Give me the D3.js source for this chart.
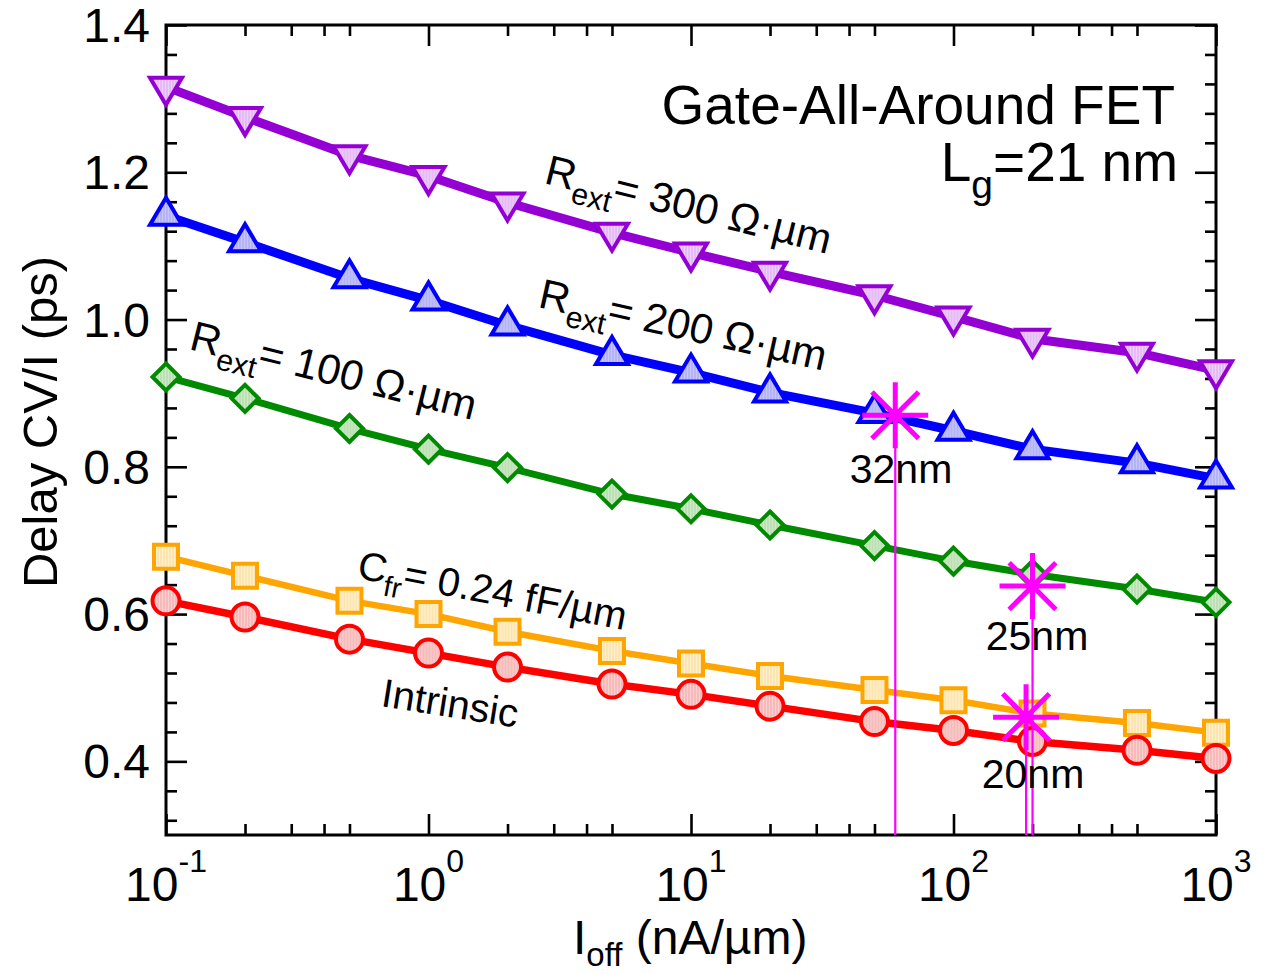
<!DOCTYPE html>
<html>
<head>
<meta charset="utf-8">
<script src="https://cdn.jsdelivr.net/npm/d3@7"></script>
<style>
  html, body { margin: 0; padding: 0; background: #fff; }
  svg { display: block; font-family: "Liberation Sans", Arial, Helvetica, sans-serif; }
</style>
</head>
<body>
<svg id="chart" width="1272" height="974"></svg>
<script>
// Off-state current (nA/um) at which each delay was computed
const ioff = [0.1, 0.2, 0.5, 1, 2, 5, 10, 20, 50, 100, 200, 500, 1000];

// Delay CV/I (ps) for each configuration
const rext300 = [1.316, 1.275, 1.223, 1.195, 1.159, 1.118, 1.091, 1.065, 1.033, 1.004, 0.974, 0.955, 0.931];
const rext200 = [1.141, 1.105, 1.056, 1.026, 0.992, 0.952, 0.928, 0.901, 0.873, 0.849, 0.824, 0.805, 0.784];
const rext100 = [0.922, 0.893, 0.852, 0.824, 0.799, 0.763, 0.743, 0.721, 0.693, 0.672, 0.654, 0.634, 0.616];
const cfr024  = [0.678, 0.652, 0.618, 0.600, 0.576, 0.550, 0.533, 0.516, 0.497, 0.483, 0.465, 0.452, 0.439];
const intrinsic = [0.618, 0.596, 0.566, 0.547, 0.528, 0.505, 0.491, 0.475, 0.454, 0.442, 0.427, 0.415, 0.404];

// Technology node markers
const nodeNames = ["32nm", "25nm", "20nm"];
const nodeIoff  = [60, 200, 189];
const nodeDelay = [0.870, 0.638, 0.460];

// Axis ticks
const xMajor = [0.1, 1, 10, 100, 1000];
const xExp   = ["-1", "0", "1", "2", "3"];
const xMinorMult = [2, 3, 4, 5];
const yMajor = [0.4, 0.6, 0.8, 1.0, 1.2, 1.4];
const yMajorLabels = ["0.4", "0.6", "0.8", "1.0", "1.2", "1.4"];

const svg = d3.select("#chart");
const L = 166, R = 1216, T = 25, B = 835;

const x = d3.scaleLog().domain([0.1, 1000]).range([L, R]);
const y = d3.scaleLinear().domain([0.3, 1.4]).range([B, T]);

// Hatched marker fills
const defs = svg.append("defs");
function hatch(id, bg, fg) {
  const p = defs.append("pattern").attr("id", id)
    .attr("width", 3).attr("height", 3).attr("patternUnits", "userSpaceOnUse");
  p.append("rect").attr("width", 3).attr("height", 3).attr("fill", bg);
  p.append("line").attr("x1", 1).attr("x2", 1).attr("y1", 0).attr("y2", 3)
    .attr("stroke", fg).attr("stroke-width", 1);
}
hatch("h-purple", "#efd0fa", "#d9a6ee");
hatch("h-blue", "#c6c6fa", "#a2a2ef");
hatch("h-green", "#cfeac8", "#a9d6a1");
hatch("h-orange", "#fff0cc", "#f9da96");
hatch("h-red", "#fad0d0", "#f2a4a4");

// Minor tick values
const xMinor = [];
[0.1, 1, 10, 100].forEach(d => xMinorMult.forEach(m => xMinor.push(d * m)));
const yMinor = d3.range(0, 28).map(i => +(0.32 + i * 0.04).toFixed(2))
  .filter(v => v < 1.4 && !yMajor.some(m => Math.abs(m - v) < 1e-6));

// Axes with inward ticks on all four sides
function styleAxis(g) {
  g.select(".domain").remove();
  g.selectAll(".tick line").attr("stroke", "#000").attr("stroke-width", 2.6);
  g.selectAll(".tick text").remove();
}
const axes = svg.append("g");
axes.append("g").attr("transform", `translate(0,${B})`)
  .call(d3.axisBottom(x).tickValues(xMajor).tickSize(-21).tickSizeOuter(0)).call(styleAxis);
axes.append("g").attr("transform", `translate(0,${B})`)
  .call(d3.axisBottom(x).tickValues(xMinor).tickSize(-11).tickSizeOuter(0)).call(styleAxis);
axes.append("g").attr("transform", `translate(0,${T})`)
  .call(d3.axisTop(x).tickValues(xMajor).tickSize(-21).tickSizeOuter(0)).call(styleAxis);
axes.append("g").attr("transform", `translate(0,${T})`)
  .call(d3.axisTop(x).tickValues(xMinor).tickSize(-11).tickSizeOuter(0)).call(styleAxis);
axes.append("g").attr("transform", `translate(${L},0)`)
  .call(d3.axisLeft(y).tickValues(yMajor).tickSize(-21).tickSizeOuter(0)).call(styleAxis);
axes.append("g").attr("transform", `translate(${L},0)`)
  .call(d3.axisLeft(y).tickValues(yMinor).tickSize(-11).tickSizeOuter(0)).call(styleAxis);
axes.append("g").attr("transform", `translate(${R},0)`)
  .call(d3.axisRight(y).tickValues(yMajor).tickSize(-21).tickSizeOuter(0)).call(styleAxis);
axes.append("g").attr("transform", `translate(${R},0)`)
  .call(d3.axisRight(y).tickValues(yMinor).tickSize(-11).tickSizeOuter(0)).call(styleAxis);

svg.append("rect").attr("x", L).attr("y", T).attr("width", R - L).attr("height", B - T)
  .attr("fill", "none").attr("stroke", "#000").attr("stroke-width", 3);

// Tick labels
const xl = svg.append("g");
xMajor.forEach((v, i) => {
  const t = xl.append("text").attr("x", x(v)).attr("y", 901)
    .attr("text-anchor", "middle").attr("font-size", 48).attr("fill", "#000");
  t.append("tspan").text("10");
  t.append("tspan").attr("font-size", 32).attr("dy", -29).text(xExp[i]);
});
yMajor.forEach((v, i) => {
  svg.append("text").attr("x", 150).attr("y", y(v) + 17)
    .attr("text-anchor", "end").attr("font-size", 48).attr("fill", "#000")
    .text(yMajorLabels[i]);
});

// Axis titles
const xt = svg.append("text").attr("x", 573).attr("y", 954)
  .attr("font-size", 48).attr("fill", "#000");
xt.append("tspan").text("I");
xt.append("tspan").attr("font-size", 33).attr("dy", 12).text("off");
xt.append("tspan").attr("dy", -12).text(" (nA/\u00b5m)");

svg.append("text").attr("transform", "translate(57,422) rotate(-90)")
  .attr("text-anchor", "middle").attr("font-size", 49).attr("fill", "#000")
  .text("Delay CV/I (ps)");

// Series
const series = [
  { vals: rext300, color: "#9400d3", fill: "url(#h-purple)", width: 9, sym: "tdown" },
  { vals: rext200, color: "#0000ff", fill: "url(#h-blue)", width: 9, sym: "tup" },
  { vals: rext100, color: "#008a00", fill: "url(#h-green)", width: 7, sym: "diamond" },
  { vals: cfr024, color: "#ffa500", fill: "url(#h-orange)", width: 6.5, sym: "square" },
  { vals: intrinsic, color: "#ff0000", fill: "url(#h-red)", width: 7.5, sym: "circle" }
];
const symPath = {
  tdown: "M-16,-9L16,-9L0,18Z",
  tup: "M-16,9L16,9L0,-18Z",
  diamond: "M0,-13.5L13.5,0L0,13.5L-13.5,0Z",
  square: "M-12,-12L12,-12L12,12L-12,12Z",
  circle: "M-13.5,0A13.5,13.5 0 1,0 13.5,0A13.5,13.5 0 1,0 -13.5,0Z"
};
const line = d3.line().x(d => x(d[0])).y(d => y(d[1]));
const plot = svg.append("g");
series.forEach(s => {
  const pts = ioff.map((v, i) => [v, s.vals[i]]);
  const g = plot.append("g");
  g.append("path").attr("d", line(pts)).attr("fill", "none")
    .attr("stroke", s.color).attr("stroke-width", s.width).attr("stroke-linejoin", "round");
  g.selectAll("path.sym").data(pts).join("path").attr("class", "sym")
    .attr("transform", d => `translate(${x(d[0])},${y(d[1])})`)
    .attr("d", symPath[s.sym]).attr("fill", s.fill)
    .attr("stroke", s.color).attr("stroke-width", 4).attr("stroke-linejoin", "miter");
});

// Technology node markers with drop lines to the axis
const nodes = svg.append("g");
const r = 33, dd = r * 0.7071;
nodeNames.forEach((n, i) => {
  const cx = x(nodeIoff[i]), cy = y(nodeDelay[i]);
  nodes.append("line").attr("x1", cx).attr("x2", cx).attr("y1", cy).attr("y2", B)
    .attr("stroke", "#ff00ff").attr("stroke-width", 2.2);
  nodes.append("path")
    .attr("d", `M${cx - r},${cy}L${cx + r},${cy}M${cx},${cy - r}L${cx},${cy + r}` +
      `M${cx - dd},${cy - dd}L${cx + dd},${cy + dd}M${cx - dd},${cy + dd}L${cx + dd},${cy - dd}`)
    .attr("stroke", "#ff00ff").attr("stroke-width", 5).attr("fill", "none");
});
const nodeLabelPos = [[901, 483], [1037, 650], [1033, 788]];
nodeNames.forEach((n, i) => {
  svg.append("text").attr("x", nodeLabelPos[i][0]).attr("y", nodeLabelPos[i][1])
    .attr("text-anchor", "middle").attr("font-size", 41).attr("fill", "#000").text(n);
});

// Curve annotations
function curveLabel(px, py, angle, size, main, sub, rest) {
  const t = svg.append("text").attr("transform", `translate(${px},${py}) rotate(${angle})`)
    .attr("font-size", size).attr("fill", "#000");
  t.append("tspan").text(main);
  if (sub) {
    t.append("tspan").attr("font-size", size * 0.72).attr("dy", size * 0.3).text(sub);
    t.append("tspan").attr("dy", -size * 0.3).text(rest);
  }
}
curveLabel(543, 183, 14, 42, "R", "ext", "= 300 \u03a9\u00b7\u00b5m");
curveLabel(537, 307, 12.5, 42, "R", "ext", "= 200 \u03a9\u00b7\u00b5m");
curveLabel(188, 349, 14, 42, "R", "ext", "= 100 \u03a9\u00b7\u00b5m");
curveLabel(356, 578, 11, 40, "C", "fr", "= 0.24 fF/\u00b5m");
curveLabel(380, 706, 9, 40, "Intrinsic");

// Device caption
svg.append("text").attr("x", 1175).attr("y", 124).attr("text-anchor", "end")
  .attr("font-size", 55).attr("fill", "#000").text("Gate-All-Around FET");
const lg = svg.append("text").attr("x", 1178).attr("y", 181).attr("text-anchor", "end")
  .attr("font-size", 55).attr("fill", "#000");
lg.append("tspan").text("L");
lg.append("tspan").attr("font-size", 39).attr("dy", 17).text("g");
lg.append("tspan").attr("dy", -17).text("=21 nm");
</script>
</body>
</html>
